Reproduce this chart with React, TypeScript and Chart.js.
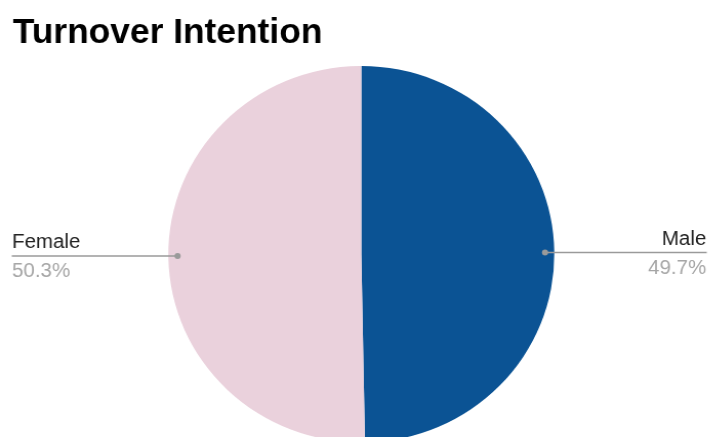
import React, { useEffect, useRef } from "react";
import { Chart, registerables } from "chart.js";

Chart.register(...registerables);

const chartTitle = "Turnover Intention";
const labels = ["Male", "Female"];
const values = [49.7, 50.3];
const colors = ["#0b5394", "#ead1dc"];

const STRETCH = 1.025;
const INNER_W = 691;
const INNER_H = 460;

const titlePlugin = {
  id: "customTitle",
  beforeDraw(chart: any) {
    const ctx = chart.ctx;
    ctx.save();
    ctx.font = "bold 34.5px 'Liberation Sans', Arial, sans-serif";
    ctx.fillStyle = "#000000";
    ctx.textAlign = "left";
    ctx.textBaseline = "alphabetic";
    ctx.fillText(chartTitle, 12.4, 43);
    ctx.restore();
  },
};

const leaderPlugin = {
  id: "leaderLabels",
  afterDatasetsDraw(chart: any) {
    const ctx = chart.ctx;
    const meta = chart.getDatasetMeta(0);
    const data = chart.data.datasets[0].data as number[];
    const total = data.reduce((a, b) => a + b, 0);
    meta.data.forEach((arc: any, i: number) => {
      const { x, y, startAngle, endAngle, outerRadius } = arc.getProps(
        ["x", "y", "startAngle", "endAngle", "outerRadius"],
        true
      );
      const mid = (startAngle + endAngle) / 2;
      const px = x + Math.cos(mid) * outerRadius * 0.952;
      const py = y + Math.sin(mid) * outerRadius * 0.952;
      const right = Math.cos(mid) >= 0;
      const edgeX = right ? chart.width - 1.5 : 11.5;
      ctx.save();
      ctx.strokeStyle = "#9a9a9a";
      ctx.lineWidth = 1.5;
      ctx.beginPath();
      ctx.moveTo(px, py);
      ctx.lineTo(edgeX, py);
      ctx.stroke();
      ctx.fillStyle = "#9a9a9a";
      ctx.beginPath();
      ctx.arc(px, py, 3, 0, Math.PI * 2);
      ctx.fill();
      ctx.font = "20px 'Liberation Sans', Arial, sans-serif";
      ctx.textAlign = right ? "right" : "left";
      ctx.textBaseline = "alphabetic";
      const tx = right ? chart.width - 2 : 11.7;
      ctx.fillStyle = "#222222";
      ctx.fillText(chart.data.labels[i], tx, py - 7.5);
      ctx.fillStyle = "#a6a6a6";
      const pct = ((data[i] / total) * 100).toFixed(1) + "%";
      ctx.fillText(pct, tx, py + 21.5);
      ctx.restore();
    });
  },
};

export default function App() {
  const canvasRef = useRef<HTMLCanvasElement | null>(null);

  useEffect(() => {
    if (!canvasRef.current) return;
    const chart = new Chart(canvasRef.current, {
      type: "pie",
      data: {
        labels,
        datasets: [
          {
            data: values,
            backgroundColor: colors,
            borderWidth: 0,
          },
        ],
      },
      options: {
        responsive: true,
        maintainAspectRatio: false,
        animation: false,
        layout: {
          padding: { top: 66, bottom: 17.4, left: 14, right: 0 },
        },
        plugins: {
          legend: { display: false },
          title: { display: false },
          tooltip: { enabled: false },
        },
      },
      plugins: [titlePlugin, leaderPlugin],
    });
    return () => chart.destroy();
  }, []);

  return (
    <div
      style={{
        position: "absolute",
        left: 0,
        top: 0,
        width: 708,
        height: 437,
        overflow: "hidden",
        background: "#ffffff",
      }}
    >
      <div
        style={{
          width: INNER_W,
          height: INNER_H,
          transform: `scaleX(${STRETCH})`,
          transformOrigin: "0 0",
          position: "relative",
        }}
      >
        <canvas ref={canvasRef} />
      </div>
    </div>
  );
}
